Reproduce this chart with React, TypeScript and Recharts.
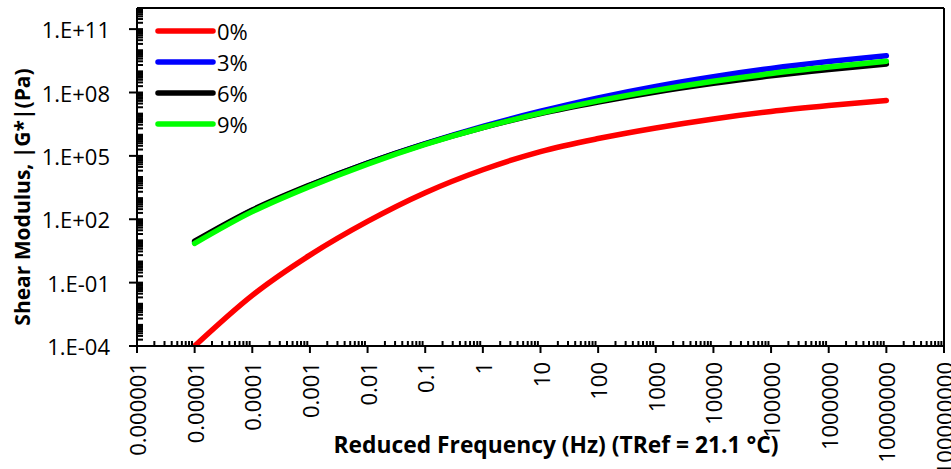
import React from "react";
import { LineChart, Line, XAxis, YAxis, Legend, Label, ReferenceLine } from "recharts";

// reduced frequency (Hz) at each decade
const frequencies = [1e-5, 1e-4, 1e-3, 1e-2, 1e-1, 1, 10, 100, 1e3, 1e4, 1e5, 1e6, 1e7];

// |G*| (Pa)
const modulus0 = [1e-4, 2.5e-2, 2.0, 79, 1.8e3, 2.2e4, 1.6e5, 6.6e5, 2.1e6, 5.6e6, 1.26e7, 2.4e7, 4.2e7];
const modulus3 = [8.1, 257, 4.0e3, 4.5e4, 3.8e5, 2.5e6, 1.3e7, 5.6e7, 1.95e8, 5.6e8, 1.38e9, 2.9e9, 5.5e9];
const modulus6 = [9.1, 275, 4.2e3, 4.6e4, 3.7e5, 2.2e6, 1.0e7, 3.5e7, 1.05e8, 2.7e8, 6.2e8, 1.23e9, 2.24e9];
const modulus9 = [7.2, 229, 3.6e3, 4.1e4, 3.5e5, 2.2e6, 1.05e7, 4.0e7, 1.26e8, 3.4e8, 7.9e8, 1.6e9, 3.0e9];

const seriesKeys = ["g0", "g3", "g6", "g9"];
const seriesNames = ["0%", "3%", "6%", "9%"];
const seriesColors = ["#FF0000", "#0000FF", "#000000", "#00FF00"];

const xMajorTicks = [1e-6, 1e-5, 1e-4, 1e-3, 1e-2, 1e-1, 1, 10, 100, 1e3, 1e4, 1e5, 1e6, 1e7, 1e8];
const xTickLabels = [
  "0.000001", "0.00001", "0.0001", "0.001", "0.01", "0.1", "1", "10", "100",
  "1000", "10000", "100000", "1000000", "10000000", "100000000",
];
const yMajorTicks = [1e-4, 1e-1, 1e2, 1e5, 1e8, 1e11];
const yTickLabels = ["1.E-04", "1.E-01", "1.E+02", "1.E+05", "1.E+08", "1.E+11"];

const data = frequencies.map((f, i) => ({
  f,
  g0: modulus0[i],
  g3: modulus3[i],
  g6: modulus6[i],
  g9: modulus9[i],
}));

// log axis ticks 1..9 x 10^k
function logTicks(lo: number, hi: number) {
  const out: number[] = [];
  for (let k = lo; k < hi; k++) {
    for (let m = 1; m < 10; m++) out.push(m * Math.pow(10, k));
  }
  out.push(Math.pow(10, hi));
  return out;
}
const xAllTicks = logTicks(-6, 8);
const yAllTicks = logTicks(-4, 12);

function majorIndex(list: number[], v: number) {
  return list.findIndex((t) => Math.abs(Math.log10(t) - Math.log10(v)) < 1e-6);
}

const FONT = "'Open Sans', sans-serif";
const axisStroke = { stroke: "#000", strokeWidth: 2 };

const XTick = (props: any) => {
  const { x, y, payload } = props;
  const idx = majorIndex(xMajorTicks, payload.value);
  if (idx < 0) {
    return (
      <g>
        <line x1={x} x2={x} y1={y} y2={y - 5} stroke="#000" strokeWidth={2} />
      </g>
    );
  }
  return (
    <g>
      <line x1={x} x2={x} y1={y} y2={y + 7} stroke="#000" strokeWidth={2} />
      <text
        transform={`translate(${x},${y + 16}) rotate(-90)`}
        textAnchor="end"
        dominantBaseline="central"
        fontSize={22}
        fontFamily={FONT}
        fill="#000"
      >
        {xTickLabels[idx]}
      </text>
    </g>
  );
};

const YTick = (props: any) => {
  const { x, y, payload } = props;
  const idx = majorIndex(yMajorTicks, payload.value);
  return (
    <g>
      <line x1={x} x2={x + 6} y1={y} y2={y} stroke="#000" strokeWidth={2} />
      {idx >= 0 && <line x1={x - 8} x2={x} y1={y} y2={y} stroke="#000" strokeWidth={2} />}
      {idx >= 0 && (
        <text x={x - 27} y={y} textAnchor="end" dominantBaseline="central" fontSize={22} fontFamily={FONT} fill="#000">
          {yTickLabels[idx]}
        </text>
      )}
    </g>
  );
};

const renderLegend = () => (
  <svg width={130} height={130}>
    {seriesNames.map((name, i) => (
      <g key={name}>
        <line
          x1={8}
          x2={63}
          y1={21 + i * 31}
          y2={21 + i * 31}
          stroke={seriesColors[i]}
          strokeWidth={5.5}
          strokeLinecap="round"
        />
        <text x={67} y={21 + i * 31} dominantBaseline="central" fontSize={22} fontFamily={FONT} fill="#000">
          {name}
        </text>
      </g>
    ))}
  </svg>
);

export default function App() {
  return (
    <div style={{ position: "absolute", left: 0, top: 0, background: "#fff" }}>
      <LineChart width={951} height={469} data={data} margin={{ top: 8, right: 7, bottom: 0, left: 0 }}>
        <XAxis
          dataKey="f"
          type="number"
          scale="log"
          domain={[1e-6, 1e8]}
          allowDataOverflow
          ticks={xAllTicks}
          interval={0}
          height={123}
          tickSize={0}
          tickMargin={0}
          tickLine={false}
          axisLine={axisStroke}
          tick={(p: any) => <XTick {...p} />}
        >
          <Label
            content={() => (
              <text
                x={556}
                y={444}
                textAnchor="middle"
                dominantBaseline="central"
                fontSize={22.8}
                fontWeight="bold"
                fontFamily={FONT}
                fill="#000"
              >
                Reduced Frequency (Hz) (TRef = 21.1 °C)
              </text>
            )}
          />
        </XAxis>
        <YAxis
          type="number"
          scale="log"
          domain={[1e-4, 1e12]}
          allowDataOverflow
          ticks={yAllTicks}
          interval={0}
          width={137}
          tickSize={0}
          tickMargin={0}
          tickLine={false}
          axisLine={axisStroke}
          tick={(p: any) => <YTick {...p} />}
        >
          <Label
            content={() => (
              <text
                transform="translate(22,197) rotate(-90)"
                textAnchor="middle"
                dominantBaseline="central"
                fontSize={21}
                fontWeight="bold"
                fontFamily={FONT}
                fill="#000"
              >
                Shear Modulus, |G*|(Pa)
              </text>
            )}
          />
        </YAxis>
        {/* plot area border, top and right */}
        <ReferenceLine y={1e12} stroke="#000" strokeWidth={2} ifOverflow="visible" />
        <ReferenceLine x={1e8} stroke="#000" strokeWidth={2} ifOverflow="visible" />
        {seriesKeys.map((k, i) => (
          <Line
            key={k}
            dataKey={k}
            name={seriesNames[i]}
            type="monotone"
            stroke={seriesColors[i]}
            strokeWidth={5.5}
            strokeLinecap="round"
            dot={false}
            isAnimationActive={false}
          />
        ))}
        <Legend
          layout="vertical"
          align="center"
          verticalAlign="middle"
          wrapperStyle={{ left: 150, top: 10, width: 130, height: 130 }}
          content={renderLegend}
        />
      </LineChart>
    </div>
  );
}
